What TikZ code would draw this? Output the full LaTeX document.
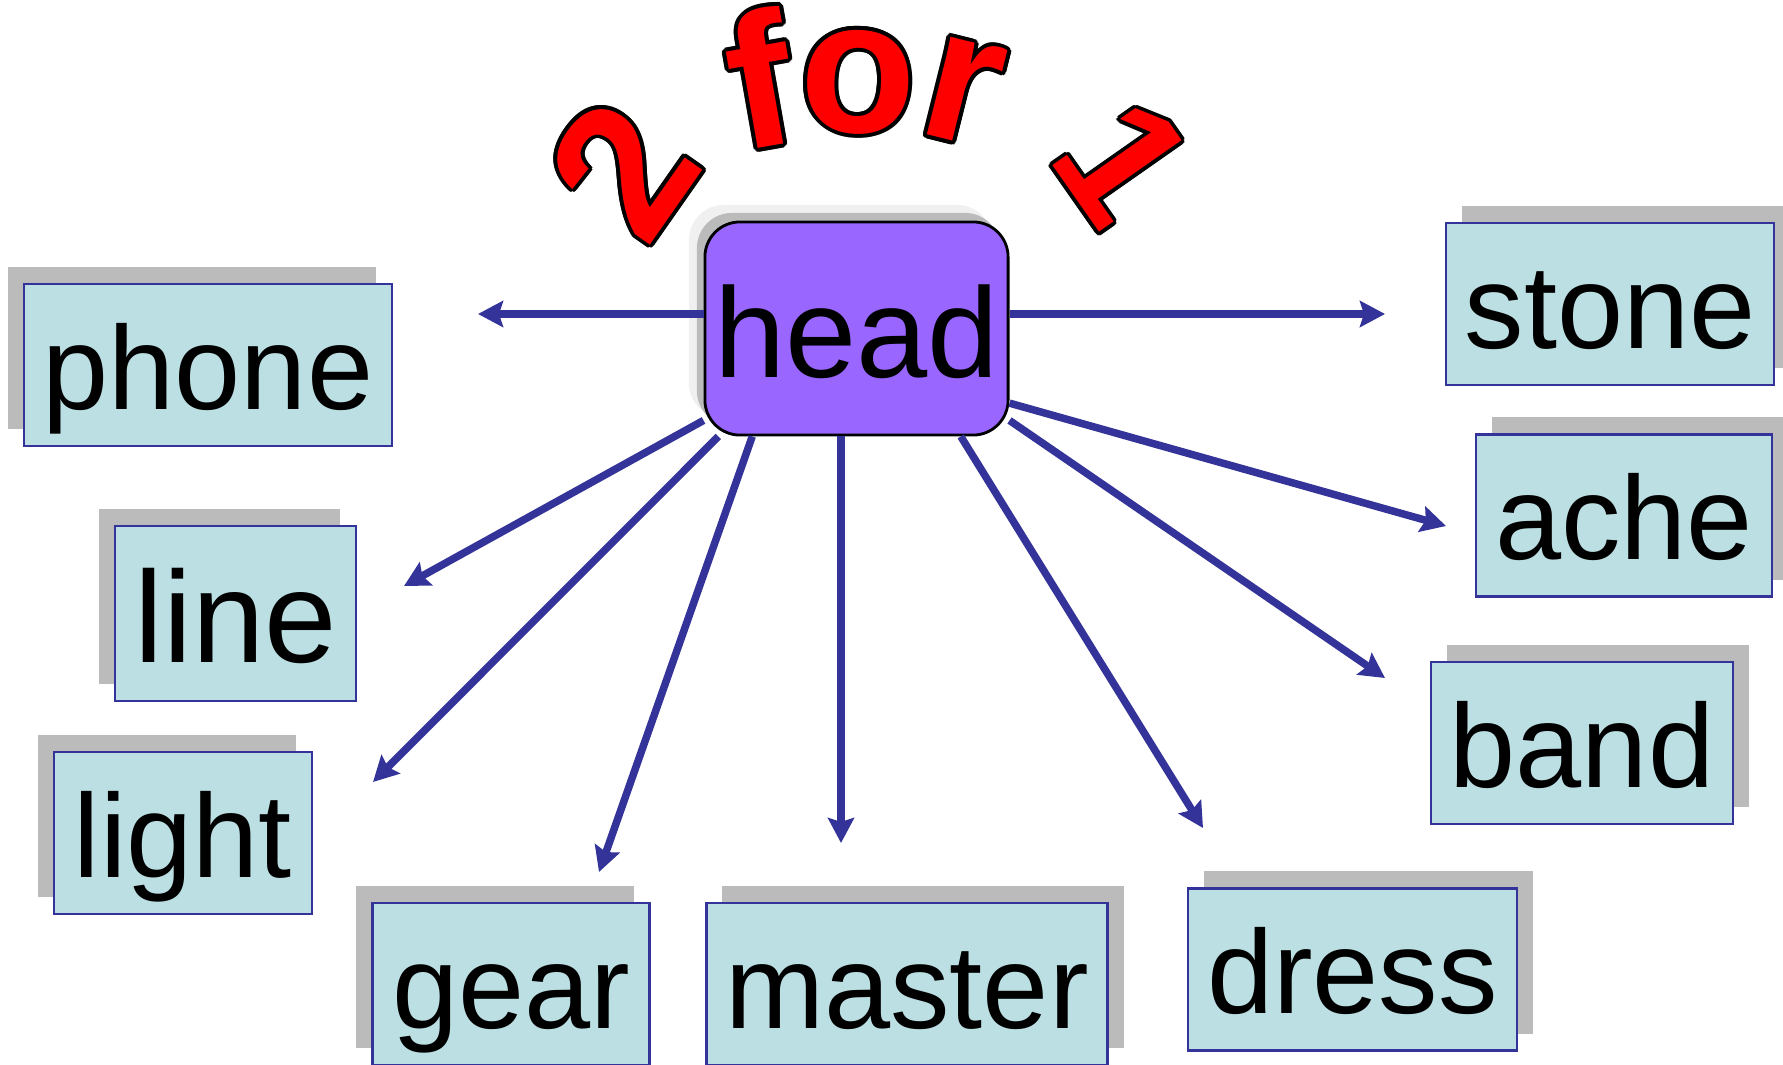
\documentclass[tikz,border=0pt]{standalone}
\usepackage{fontspec}
\setmainfont{Liberation Sans}
\usepackage{contour}
\contourlength{1.1pt}
\usetikzlibrary{arrows.meta, shadows}
\definecolor{linkBlue}{HTML}{333399}
\definecolor{wordFill}{HTML}{BBDFE3}
\definecolor{shadowGray}{HTML}{BBBBBB}
\definecolor{headFill}{HTML}{9966FF}

\begin{document}
\begin{tikzpicture}[
    x=0.01cm, y=-0.01cm,
    word/.style={draw=linkBlue, line width=0.7pt, fill=wordFill, inner sep=0pt,
      text height=1.25cm, text depth=0.37cm, font=\fontsize{33.8}{40}\selectfont},
    lshadow/.style={drop shadow={shadow xshift=-0.16cm, shadow yshift=0.17cm, fill=shadowGray, opacity=1}},
    rshadow/.style={drop shadow={shadow xshift=0.16cm, shadow yshift=0.17cm, fill=shadowGray, opacity=1}},
    hub/.style={draw=black, line width=0.8pt, fill=headFill, rounded corners=0.35cm, inner sep=0pt,
      minimum width=3.03cm, text height=1.55cm, text depth=0.58cm, font=\fontsize{36.4}{40}\selectfont,
      general shadow={fill=black!6, shadow xshift=-0.16cm, shadow yshift=0.17cm},
      drop shadow={fill=shadowGray, shadow xshift=-0.08cm, shadow yshift=0.09cm, opacity=1}},
    link/.style={draw=linkBlue, line width=0.075cm, -{Stealth[length=0.25cm, width=0.26cm, inset=0.04cm]}},
    title/.style={text=red, font=\bfseries\fontsize{54}{56}\selectfont, inner sep=0pt}
  ]
  \useasboundingbox (0,0) rectangle (1783,1064);

  % Title on an arch
  \node[title, rotate=55] (twoGlyph) at (624,170) {\contour{black}{2}};
  \node[title, rotate=10] (fGlyph) at (760,80) {\contour{black}{f}};
  \node[title, rotate=-2] (oGlyph) at (858,84) {\contour{black}{o}};
  \node[title, rotate=-14] (rGlyph) at (962,93) {\contour{black}{r}};
  \node[title, rotate=-55, scale=0.92] (oneGlyph) at (1122,163) {\contour{black}{1}};

  % Centre word
  \node[hub] (head) at (856.5,328.5) {head};

  % Left words
  \node[word, lshadow, minimum width=3.68cm] (phone) at (208,365) {phone};
  \node[word, lshadow, minimum width=2.41cm, text height=1.36cm, text depth=0.39cm,
    font=\fontsize{37}{42}\selectfont] (line) at (235.5,613.5) {line};
  \node[word, lshadow, minimum width=2.58cm] (light) at (183,833) {light};
  \node[word, lshadow, minimum width=2.77cm] (gear) at (511,984) {gear};

  % Right words
  \node[word, rshadow, minimum width=4.01cm] (master) at (907,984) {master};
  \node[word, rshadow, minimum width=3.29cm] (dress) at (1352.5,969.5) {dress};
  \node[word, rshadow, minimum width=3.02cm] (band) at (1582,743) {band};
  \node[word, rshadow, minimum width=2.96cm] (ache) at (1624,515.5) {ache};
  \node[word, rshadow, minimum width=3.28cm] (stone) at (1610,304) {stone};

  % Arrow tips (they stop short of the boxes)
  \coordinate (phoneTip) at (478,314);
  \coordinate (stoneTip) at (1385,314);
  \coordinate (lineTip) at (404,586);
  \coordinate (lightTip) at (373,782);
  \coordinate (gearTip) at (599,872);
  \coordinate (masterTip) at (841,843);
  \coordinate (dressTip) at (1203,828);
  \coordinate (bandTip) at (1385,678);
  \coordinate (acheTip) at (1446,526);

  % Links
  \draw[link] (phoneTip -| head.west) -- (phoneTip);
  \draw[link] (stoneTip -| head.east) -- (stoneTip);
  \draw[link] (head.211) -- (lineTip);
  \draw[link] (head.218) -- (lightTip);
  \draw[link] (head.226) -- (gearTip);
  \draw[link] (masterTip |- head.south) -- (masterTip);
  \draw[link] (head.314) -- (dressTip);
  \draw[link] (head.329) -- (bandTip);
  \draw[link] (head.334) -- (acheTip);
\end{tikzpicture}
\end{document}
